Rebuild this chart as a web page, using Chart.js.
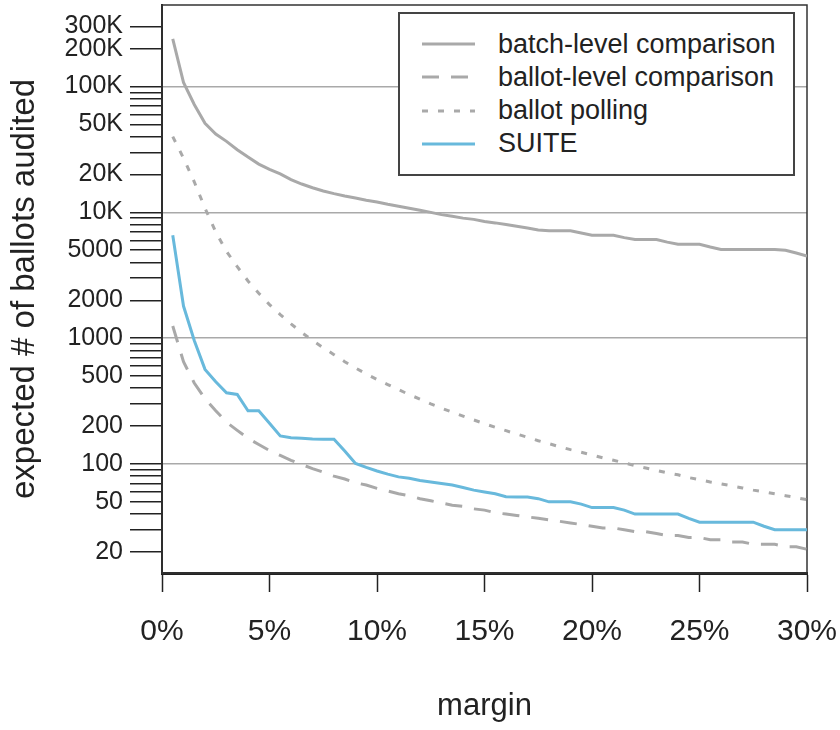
<!DOCTYPE html>
<html>
<head>
<meta charset="utf-8">
<script src="https://cdn.jsdelivr.net/npm/chart.js@4.4.1/dist/chart.umd.min.js"></script>
<style>
  html, body { margin: 0; padding: 0; background: #fff; }
  #wrap { position: relative; width: 840px; height: 730px; }
  #legend {
    position: absolute; left: 398px; top: 12px; width: 397px; height: 164px;
    box-sizing: border-box; border: 2px solid #444; background: #fff;
    font-family: "Liberation Sans", Arial, Helvetica, sans-serif; font-size: 27px; color: #222;
  }
  #legend .row { position: absolute; left: 0; height: 32px; display: flex; align-items: center; white-space: nowrap; }
  #legend svg { margin-left: 22px; margin-right: 23px; }
</style>
</head>
<body>
<div id="wrap">
  <canvas id="lineChart" width="840" height="730"></canvas>
  <div id="legend"></div>
</div>
<script>
// margin (%) at which each point was read
const margins = [0.5, 1, 1.5, 2, 2.5, 3, 3.5, 4, 4.5, 5, 5.5, 6, 6.5, 7, 7.5, 8, 8.5, 9, 9.5, 10,
  10.5, 11, 11.5, 12, 12.5, 13, 13.5, 14, 14.5, 15, 15.5, 16, 16.5, 17, 17.5, 18, 18.5, 19, 19.5, 20,
  20.5, 21, 21.5, 22, 22.5, 23, 23.5, 24, 24.5, 25, 25.5, 26, 26.5, 27, 27.5, 28, 28.5, 29, 29.5, 30]

const batchLevel = [239000, 108000, 72000, 51000, 42000, 36700, 31500, 27500, 24200, 22000,
  20200, 18200, 16800, 15700, 14800, 14100, 13500, 13000, 12500, 12100,
  11600, 11200, 10800, 10400, 10000, 9600, 9300, 9000, 8800, 8450,
  8250, 8000, 7750, 7500, 7250, 7130, 7130, 7130, 6850, 6580,
  6580, 6580, 6300, 6080, 6080, 6080, 5800, 5580, 5580, 5580,
  5300, 5080, 5080, 5080, 5080, 5080, 5080, 5000, 4750, 4500]

const ballotLevel = [1250, 650, 440, 330, 265, 215, 185, 160, 143, 128,
  117, 107, 99, 92, 86, 80, 76, 71, 68, 64,
  61, 58, 56, 53, 51, 49, 47, 46, 44, 43,
  41, 40, 39, 38, 37, 36, 35, 34, 33, 32,
  31, 31, 30, 29, 29, 28, 27, 27, 26, 26,
  25, 25, 24, 24, 23, 23, 23, 22, 22, 21]

const ballotPolling = [40000, 27000, 17500, 10800, 7000, 4900, 3700, 2850, 2280, 1850,
  1540, 1300, 1110, 960, 840, 740, 650, 580, 520, 470,
  428, 390, 356, 328, 301, 278, 258, 240, 224, 209,
  196, 184, 173, 163, 153, 145, 137, 130, 124, 118,
  112, 107, 102, 97, 93, 89, 85, 82, 78, 75,
  72, 69.5, 67, 64.5, 62, 60, 58, 56, 54, 52]

const suite = [6580, 1800, 960, 565, 450, 368, 357, 265, 265, 211,
  167, 162, 160, 158, 157, 157, 127, 101, 94, 88,
  83, 79, 77, 74, 72, 70, 68, 65, 62, 60,
  58, 55, 54.7, 54.7, 53, 50, 50, 50, 48, 45,
  45, 45, 43, 40, 40, 40, 40, 40, 37, 34.5,
  34.5, 34.5, 34.5, 34.5, 34.5, 32, 30, 30, 30, 30]

const seriesNames = ['batch-level comparison', 'ballot-level comparison', 'ballot polling', 'SUITE']

const yTickValues = [20, 30, 40, 50, 60, 70, 80, 90,
  100, 200, 300, 400, 500, 600, 700, 800, 900,
  1000, 2000, 3000, 4000, 5000, 6000, 7000, 8000, 9000,
  10000, 20000, 30000, 40000, 50000, 60000, 70000, 80000, 90000,
  100000, 200000, 300000]
const yTickLabels = ['20', '', '', '50', '', '', '', '',
  '100', '200', '', '', '500', '', '', '', '',
  '1000', '2000', '', '', '5000', '', '', '', '',
  '10K', '20K', '', '', '50K', '', '', '', '',
  '100K', '200K', '300K']
const yGridValues = [100, 1000, 10000, 100000]
const xTickValues = [0, 5, 10, 15, 20, 25, 30]

Chart.defaults.font.family = '"Liberation Sans", Arial, Helvetica, sans-serif'
Chart.defaults.color = '#222'

function points(values) {
    return margins.map((m, i) => ({ x: m, y: values[i] }))
}

const framePlugin = {
    id: 'frame',
    beforeDatasetsDraw(chart) {
        const { ctx, chartArea: a } = chart
        ctx.save()
        ctx.strokeStyle = '#333'
        ctx.lineWidth = 1.5
        ctx.strokeRect(a.left, a.top, a.right - a.left, a.bottom - a.top)
        ctx.restore()
    }
}

const chart = new Chart(document.getElementById('lineChart'), {
    type: 'line',
    data: {
        datasets: [
            { label: seriesNames[0], data: points(batchLevel), borderColor: '#a9a9a9', borderDash: [] },
            { label: seriesNames[1], data: points(ballotLevel), borderColor: '#a9a9a9', borderDash: [17, 12] },
            { label: seriesNames[2], data: points(ballotPolling), borderColor: '#a9a9a9', borderDash: [6, 10] },
            { label: seriesNames[3], data: points(suite), borderColor: '#68b9dc', borderDash: [] }
        ]
    },
    options: {
        responsive: false,
        animation: false,
        layout: { padding: { top: 5, right: 33, bottom: 0, left: 0 } },
        elements: {
            line: { borderWidth: 3, tension: 0, fill: false },
            point: { radius: 0 }
        },
        plugins: {
            legend: { display: false },
            tooltip: { enabled: false }
        },
        scales: {
            x: {
                type: 'linear',
                min: 0,
                max: 30,
                afterBuildTicks: s => { s.ticks = xTickValues.map(v => ({ value: v })) },
                afterFit: s => { s.height = 157; s.paddingLeft = 0; s.paddingRight = 0 },
                ticks: {
                    autoSkip: false,
                    maxRotation: 0,
                    padding: 22,
                    font: { size: 30 },
                    callback: v => v + '%'
                },
                grid: { drawOnChartArea: false, tickLength: 19, tickColor: '#222', tickWidth: 1.5 },
                border: { color: '#222', width: 3 },
                title: { display: true, text: 'margin', font: { size: 31 }, padding: { bottom: 5 } }
            },
            y: {
                type: 'logarithmic',
                min: 13.6,
                max: 445000,
                afterBuildTicks: s => { s.ticks = yTickValues.map(v => ({ value: v })) },
                afterFit: s => { s.width = 162; s.paddingTop = 0; s.paddingBottom = 0 },
                ticks: {
                    autoSkip: false,
                    padding: 7,
                    font: { size: 25 },
                    callback: (v, i) => yTickLabels[i]
                },
                grid: {
                    color: ctx => (ctx.tick && yGridValues.includes(ctx.tick.value)) ? '#a9a9a9' : 'rgba(0,0,0,0)',
                    lineWidth: 1.5,
                    tickLength: 32,
                    tickColor: '#222',
                    tickWidth: 1.5
                },
                border: { color: '#222', width: 2 },
                title: { display: true, text: 'expected # of ballots audited', font: { size: 33 }, padding: { top: 5 } }
            }
        }
    },
    plugins: [framePlugin]
})

// legend box, built from the datasets
const legend = document.getElementById('legend')
chart.data.datasets.forEach(function (ds, i) {
    const row = document.createElement('div')
    row.className = 'row'
    row.style.top = (14 + i * 33.3) + 'px'
    const dash = ds.borderDash.length ? ds.borderDash.join(' ') : 'none'
    row.innerHTML = '<svg width="53" height="6"><line x1="0" y1="3" x2="53" y2="3" stroke="' + ds.borderColor +
        '" stroke-width="3" stroke-dasharray="' + dash + '"/></svg><span>' + ds.label + '</span>'
    legend.appendChild(row)
})
</script>
</body>
</html>
